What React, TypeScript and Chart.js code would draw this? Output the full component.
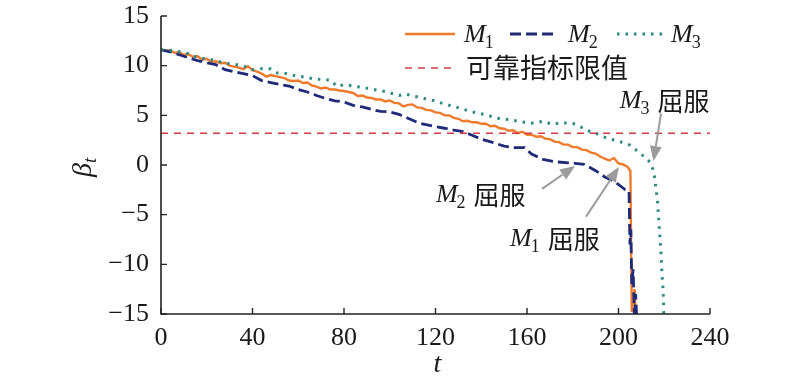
import React, { useEffect, useRef } from "react";
import { Chart, registerables } from "chart.js";
Chart.register(...registerables);

// ---------- data ----------
const xTicks = [0, 40, 80, 120, 160, 200, 240];
const yTicks = [-15, -10, -5, 0, 5, 10, 15];
const limitValue = 3.2;

const m1Time = [
  0, 2, 4, 6, 8, 10, 12, 14, 16, 18,
  20, 22, 24, 26, 28, 30, 32, 34, 36, 38,
  40, 42, 44, 46, 48, 50, 52, 54, 56, 58,
  60, 62, 64, 66, 68, 70, 72, 74, 76, 78,
  80, 82, 84, 86, 88, 90, 92, 94, 96, 98,
  100, 102, 104, 106, 108, 110, 112, 114, 116, 118,
  120, 122, 124, 126, 128, 130, 132, 134, 136, 138,
  140, 142, 144, 146, 148, 150, 152, 154, 156, 158,
  160, 162, 164, 166, 168, 170, 172, 174, 176, 178,
  180, 182, 184, 186, 188, 190, 192, 194, 196, 198,
  200, 202, 204, 205.2, 205.8, 207, 207.6,
];
const m1Beta = [
  11.6, 11.5, 11.55, 11.3, 11.35, 11.1, 11.15, 10.9, 10.95, 10.6,
  10.7, 10.4, 10.45, 10.25, 10.3, 10.0, 9.9, 9.8, 9.65, 9.95,
  9.55, 9.4, 9.2, 8.9, 9.05, 8.95, 8.85, 8.75, 8.5, 8.45,
  8.5, 8.25, 8.3, 8.0, 7.9, 7.7, 7.8, 7.6, 7.6, 7.5,
  7.45, 7.35, 7.25, 6.95, 7.0, 6.8, 6.75, 6.6, 6.6, 6.4,
  6.5, 6.25, 6.2, 5.9, 6.05, 6.1, 5.8, 5.75, 5.55, 5.5,
  5.3, 5.25, 5.0, 5.0, 4.75, 4.65, 4.4, 4.45, 4.3, 4.3,
  4.15, 4.15, 3.9, 3.95, 3.7, 3.65, 3.45, 3.5, 3.2, 3.35,
  3.05, 3.05, 2.85, 2.9, 2.65, 2.6, 2.35, 2.3, 2.05, 2.05,
  1.8, 1.8, 1.55, 1.5, 1.25, 1.15, 0.85, 0.65, 0.45, 0.7,
  0.15, 0.05, -0.2, -0.6, -14.8, -12.5, -15.6,
];

const m2Time = [
  0, 4, 8, 12, 16, 20, 24, 28, 32, 36,
  40, 44, 48, 52, 56, 60, 64, 68, 72, 76,
  80, 84, 88, 92, 96, 100, 104, 108, 113, 119,
  124, 128, 132, 136, 140, 146, 150, 154, 159, 162,
  167, 172, 181, 185, 190, 194, 198.5, 203, 204.6, 205,
  205.4, 205.8, 206.4, 207, 207.5, 208,
];
const m2Beta = [
  11.6, 11.4, 11.1, 10.8, 10.5, 10.3, 10.1, 9.6, 9.4, 9.2,
  9.0, 8.5, 8.3, 8.1, 7.95, 7.6, 7.35, 7.0, 6.7, 6.45,
  6.35, 6.0, 5.85, 5.6, 5.4, 5.35, 5.1, 4.7, 4.2, 3.9,
  3.7, 3.5, 3.35, 3.0, 2.6, 2.2, 1.9, 1.75, 1.74, 1.1,
  0.57, 0.33, 0.17, 0.07, -0.57, -1.2, -1.7, -2.5, -2.6, -8,
  -6.5, -12, -10.5, -15.6, -13, -15.6,
];

const m3Time = [
  0, 4, 8, 10.5, 14, 17, 20, 24, 28, 32,
  36, 40, 44, 48, 51, 55, 59, 63, 67, 71,
  74, 77, 80, 84, 88, 91, 94, 98, 101, 104,
  107, 111, 115, 119, 123, 127, 131, 135, 139, 143,
  147, 151, 155, 159, 163, 167, 171, 175, 180, 183,
  186, 190, 195, 200, 205, 209.4, 213.8, 215.5, 216.2, 217,
  217.6, 218.1, 218.6, 219, 219.5, 219.7, 219.8,
];
const m3Beta = [
  11.6, 11.55, 11.4, 11.35, 11.0, 10.75, 10.7, 10.5, 10.25, 10.15,
  9.97, 9.6, 9.7, 9.67, 9.25, 9.2, 8.96, 8.85, 8.66, 8.6,
  8.56, 7.9, 8.1, 7.95, 7.8, 7.7, 7.55, 7.4, 7.2, 7.0,
  7.15, 6.9, 6.7, 6.5, 6.2, 5.95, 5.7, 5.4, 5.2, 5.0,
  4.7, 4.6, 4.45, 4.3, 4.2, 4.4, 4.1, 4.25, 4.2, 3.9,
  3.5, 3.2, 2.7, 2.4, 2.0, 1.2, 0.3, -0.7, -2.0, -3.5,
  -5.5, -7.2, -9.0, -10.9, -12.6, -14.0, -15.6,
];

// annotation anchors (data coordinates)
const labelM3 = { t: 200.6, b: 5.7, sub: "3" };
const labelM2 = { t: 120.2, b: -3.7, sub: "2" };
const labelM1 = { t: 152.6, b: -8.2, sub: "1" };
const arrowM3 = { t0: 218.6, b0: 5.2, t1: 215.3, b1: 0.4 };
const arrowM2 = { t0: 166.6, b0: -2.4, t1: 181, b1: -0.1 };
const arrowM1 = { t0: 185.8, b0: -5.2, t1: 200.2, b1: -0.2 };

const COLOR_M1 = "#ef7a2c";
const COLOR_M2 = "#1f2a78";
const COLOR_M3 = "#2b8a83";
const COLOR_LIMIT = "#d63a44";
const ARROW = "#9b9b9b";

const SERIF = '"Liberation Serif", "Times New Roman", serif';
const CJK = '"Noto Sans CJK SC", sans-serif';

const pairs = (t: number[], v: number[]) => t.map((x, i) => ({ x, y: v[i] }));

function drawM(ctx: CanvasRenderingContext2D, x: number, y: number, sub: string, size = 26) {
  ctx.font = `italic ${size}px ${SERIF}`;
  ctx.textAlign = "left";
  ctx.textBaseline = "alphabetic";
  ctx.fillText("M", x, y);
  const w = ctx.measureText("M").width;
  ctx.font = `${Math.round(size * 0.68)}px ${SERIF}`;
  ctx.fillText(sub, x + w - 1, y + 6);
  return w - 1 + ctx.measureText(sub).width;
}

function drawArrow(ctx: CanvasRenderingContext2D, x0: number, y0: number, x1: number, y1: number) {
  const ang = Math.atan2(y1 - y0, x1 - x0);
  const hl = 15, hw = 6;
  const bx = x1 - hl * Math.cos(ang), by = y1 - hl * Math.sin(ang);
  ctx.strokeStyle = ARROW;
  ctx.fillStyle = ARROW;
  ctx.lineWidth = 2;
  ctx.setLineDash([]);
  ctx.beginPath();
  ctx.moveTo(x0, y0);
  ctx.lineTo(bx, by);
  ctx.stroke();
  ctx.beginPath();
  ctx.moveTo(x1, y1);
  ctx.lineTo(bx + hw * Math.sin(ang), by - hw * Math.cos(ang));
  ctx.lineTo(bx - hw * Math.sin(ang), by + hw * Math.cos(ang));
  ctx.closePath();
  ctx.fill();
}

const decorPlugin = {
  id: "decor",
  afterDraw(chart: any) {
    const { ctx, chartArea, scales } = chart;
    const xs = scales.x, ys = scales.y;
    ctx.save();
    // axes
    ctx.strokeStyle = "#222";
    ctx.lineWidth = 1.6;
    ctx.setLineDash([]);
    ctx.beginPath();
    ctx.moveTo(chartArea.left, chartArea.top);
    ctx.lineTo(chartArea.left, chartArea.bottom);
    ctx.lineTo(chartArea.right, chartArea.bottom);
    ctx.stroke();
    // inward ticks
    ctx.lineWidth = 1.4;
    ctx.beginPath();
    xTicks.forEach((t) => {
      const px = xs.getPixelForValue(t);
      ctx.moveTo(px, chartArea.bottom);
      ctx.lineTo(px, chartArea.bottom - 6);
    });
    yTicks.forEach((v) => {
      const py = ys.getPixelForValue(v);
      ctx.moveTo(chartArea.left, py);
      ctx.lineTo(chartArea.left + 6, py);
    });
    ctx.stroke();

    ctx.fillStyle = "#1a1a1a";
    // x title
    ctx.font = `italic 28px ${SERIF}`;
    ctx.textAlign = "center";
    ctx.textBaseline = "alphabetic";
    ctx.fillText("t", (chartArea.left + chartArea.right) / 2 + 2, 372);
    // y title (rotated)
    ctx.save();
    ctx.translate(91, (chartArea.top + chartArea.bottom) / 2 + 12);
    ctx.rotate(-Math.PI / 2);
    ctx.font = `italic 28px ${SERIF}`;
    ctx.textAlign = "left";
    ctx.fillText("β", 0, 0);
    const bw = ctx.measureText("β").width;
    ctx.font = `italic 19px ${SERIF}`;
    ctx.fillText("t", bw, 5);
    ctx.restore();

    // legend
    const lx = 405;
    ctx.lineWidth = 2.4;
    ctx.strokeStyle = COLOR_M1;
    ctx.setLineDash([]);
    ctx.beginPath(); ctx.moveTo(lx, 34); ctx.lineTo(lx + 50, 34); ctx.stroke();
    ctx.fillStyle = "#1a1a1a";
    drawM(ctx, 464, 42, "1");

    ctx.strokeStyle = COLOR_M2;
    ctx.lineWidth = 2.8;
    ctx.setLineDash([11, 5]);
    ctx.beginPath(); ctx.moveTo(510, 34); ctx.lineTo(558, 34); ctx.stroke();
    drawM(ctx, 568, 42, "2");

    ctx.strokeStyle = COLOR_M3;
    ctx.lineWidth = 3;
    ctx.setLineDash([2.5, 6]);
    ctx.beginPath(); ctx.moveTo(617, 34); ctx.lineTo(667, 34); ctx.stroke();
    drawM(ctx, 671, 42, "3");

    ctx.strokeStyle = COLOR_LIMIT;
    ctx.lineWidth = 1.6;
    ctx.setLineDash([7, 6]);
    ctx.beginPath(); ctx.moveTo(lx, 68); ctx.lineTo(lx + 52, 68); ctx.stroke();
    ctx.setLineDash([]);
    ctx.font = `27px ${CJK}`;
    ctx.textBaseline = "middle";
    ctx.textAlign = "left";
    ctx.fillText("可靠指标限值", 466, 68);

    // annotations
    const lab = (o: { t: number; b: number; sub: string }) => {
      const x = xs.getPixelForValue(o.t);
      const y = ys.getPixelForValue(o.b);
      ctx.fillStyle = "#1a1a1a";
      const w = drawM(ctx, x, y, o.sub);
      ctx.font = `26px ${CJK}`;
      ctx.textBaseline = "alphabetic";
      ctx.fillText("屈服", x + w + 8, y + 3);
    };
    lab(labelM3);
    lab(labelM2);
    lab(labelM1);
    const arr = (a: { t0: number; b0: number; t1: number; b1: number }) =>
      drawArrow(ctx, xs.getPixelForValue(a.t0), ys.getPixelForValue(a.b0), xs.getPixelForValue(a.t1), ys.getPixelForValue(a.b1));
    arr(arrowM3);
    arr(arrowM2);
    arr(arrowM1);
    ctx.restore();
  },
};

export default function App() {
  const ref = useRef<HTMLCanvasElement | null>(null);
  useEffect(() => {
    if (!ref.current) return;
    const chart = new Chart(ref.current, {
      type: "line",
      data: {
        datasets: [
          {
            label: "limit",
            data: [
              { x: xTicks[0], y: limitValue },
              { x: xTicks[xTicks.length - 1], y: limitValue },
            ],
            borderColor: COLOR_LIMIT,
            borderWidth: 1.6,
            borderDash: [7, 6],
            pointRadius: 0,
          },
          {
            label: "M3",
            data: pairs(m3Time, m3Beta),
            borderColor: COLOR_M3,
            borderWidth: 3,
            borderDash: [2.5, 6],
            pointRadius: 0,
          },
          {
            label: "M2",
            data: pairs(m2Time, m2Beta),
            borderColor: COLOR_M2,
            borderWidth: 2.8,
            borderDash: [11, 5],
            pointRadius: 0,
          },
          {
            label: "M1",
            data: pairs(m1Time, m1Beta),
            borderColor: COLOR_M1,
            borderWidth: 2.4,
            pointRadius: 0,
          },
        ],
      },
      options: {
        responsive: false,
        animation: false,
        layout: { padding: { top: 16, right: 90, left: 0, bottom: 0 } },
        plugins: { legend: { display: false }, tooltip: { enabled: false } },
        scales: {
          x: {
            type: "linear",
            min: 0,
            max: 240,
            afterBuildTicks: (s: any) => {
              s.ticks = xTicks.map((v) => ({ value: v }));
            },
            afterFit: (s: any) => {
              s.height = 67;
              s.paddingLeft = 0;
              s.paddingRight = 0;
            },
            grid: { display: false, drawTicks: false },
            border: { display: false },
            ticks: {
              color: "#1a1a1a",
              font: { family: SERIF, size: 26 },
              padding: 9,
              maxRotation: 0,
            },
          },
          y: {
            type: "linear",
            min: -15,
            max: 15,
            afterBuildTicks: (s: any) => {
              s.ticks = yTicks.map((v) => ({ value: v }));
            },
            afterFit: (s: any) => {
              s.width = 161;
              s.paddingTop = 0;
              s.paddingBottom = 0;
            },
            grid: { display: false, drawTicks: false },
            border: { display: false },
            ticks: {
              color: "#1a1a1a",
              font: { family: SERIF, size: 26 },
              padding: 12,
              callback: (v: any) => String(v).replace("-", "\u2212"),
            },
          },
        },
      },
      plugins: [decorPlugin],
    });
    return () => chart.destroy();
  }, []);
  return (
    <div style={{ position: "fixed", left: 0, top: 0, width: 800, height: 381, background: "#fff" }}>
      <canvas ref={ref} width={800} height={381} />
    </div>
  );
}
